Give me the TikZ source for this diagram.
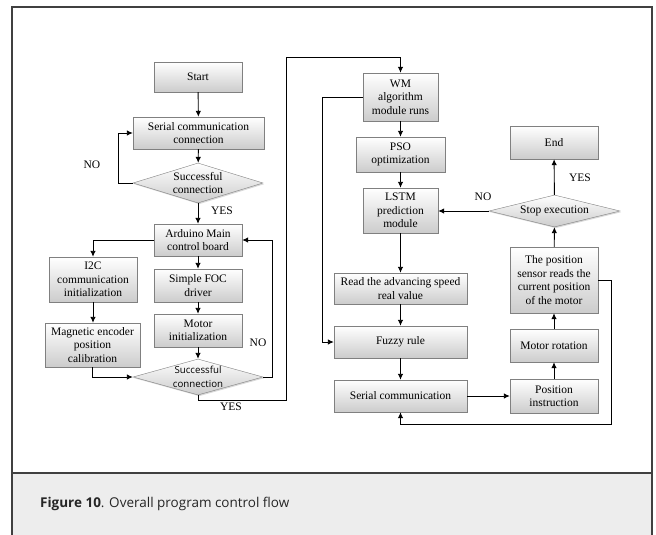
\documentclass[tikz,border=0pt]{standalone}
\usepackage{fontspec}
\setmainfont{Liberation Serif}
\newfontfamily\capfont{Open Sans}
\usetikzlibrary{shapes.geometric,arrows.meta,shadows}

\begin{document}
\begin{tikzpicture}[x=1pt,y=-1pt,
  box/.style={rectangle, draw=black!50, top color=white, bottom color=black!20,
    drop shadow={shadow xshift=1.2pt, shadow yshift=-1.2pt, opacity=0.3},
    inner sep=1pt, align=center, font=\fontsize{11.5}{13.5}\selectfont},
  dia/.style={diamond, draw=black!50, top color=white, bottom color=black!20,
    drop shadow={shadow xshift=1.2pt, shadow yshift=-1.2pt, opacity=0.3}, inner sep=0pt},
  line/.style={draw=black, line width=0.9pt},
  arr/.style={line, -{Latex[length=6pt,width=5.5pt]}},
  lbl/.style={font=\fontsize{11.5}{13.5}\selectfont}]
\clip (0,0) rectangle (656,535);
% frame and caption band
\fill[white] (0,0) rectangle (656,535);
\fill[black!7] (12,473) rectangle (652,540);
\draw[black!75, line width=1.2pt] (12,473) -- (652,473);
\draw[black!75, line width=1.2pt] (12,540) -- (12,7) -- (652,7) -- (652,540);
\node[anchor=west, inner sep=0pt, text=black!85, font=\capfont\fontsize{13.5}{16}\selectfont] (cap) at (40,504) {\textbf{Figure 10}. Overall program control flow};
% left column
\node[box, minimum width=88pt, minimum height=30pt] (start) at (198,77) {Start};
\node[box, minimum width=131pt, minimum height=32pt] (ser1) at (198.5,133) {Serial communication\\connection};
\node[dia, minimum width=130pt, minimum height=40pt, label={[align=center, lbl]center:Successful\\connection}] (d1) at (198,183) {};
\node[box, minimum width=88pt, minimum height=32pt] (ard) at (198,240) {Arduino Main\\control board};
\node[box, minimum width=88pt, minimum height=45pt] (i2c) at (93,279.5) {I2C\\communication\\initialization};
\node[box, minimum width=88pt, minimum height=33pt] (foc) at (198,285.5) {Simple FOC\\driver};
\node[box, minimum width=88pt, minimum height=33pt] (minit) at (198,330.5) {Motor\\initialization};
\node[box, minimum width=95pt, minimum height=44pt] (mag) at (92.5,345) {Magnetic encoder\\position\\calibration};
\node[dia, minimum width=130pt, minimum height=36pt, label={[align=center, font=\capfont\fontsize{9.7}{13.5}\selectfont]center:Successful\\connection}] (d2) at (198,377) {};
\draw[arr] (start) -- (ser1);
\draw[arr] (ser1) -- (d1);
\draw[arr] (d1.west) -- ++(-14,0) |- (ser1.west);
\draw[arr] (d1) -- (ard);
\draw[arr] (ard.west) -| (i2c.north);
\draw[arr] (ard) -- (foc);
\draw[arr] (i2c) -- (i2c |- mag.north);
\draw[arr] (foc) -- (minit);
\draw[arr] (minit) -- (d2);
\draw[arr] (mag.south) |- (d2.west);
\draw[arr] (d2.east) -- ++(9,0) |- (ard.east);
\node[lbl] (no1) at (92,165) {NO};
\node[lbl] (yes1) at (222,211) {YES};
\node[lbl] (no2) at (258,343) {NO};
\node[lbl] (yes2) at (231,407) {YES};
% right part
\node[box, minimum width=75pt, minimum height=48pt] (wm) at (400.5,97) {WM\\algorithm\\module runs};
\node[box, minimum width=89pt, minimum height=35pt] (pso) at (400.5,154.5) {PSO\\optimization};
\node[box, minimum width=75pt, minimum height=45pt] (lstm) at (400.5,210.5) {LSTM\\prediction\\module};
\node[box, minimum width=133pt, minimum height=31pt] (read) at (400.5,288.5) {Read the advancing speed\\real value};
\node[box, minimum width=133pt, minimum height=32pt] (fuz) at (400.5,342) {Fuzzy rule};
\node[box, minimum width=133pt, minimum height=32pt] (ser2) at (400.5,396) {Serial communication};
\node[box, minimum width=88pt, minimum height=34pt] (pins) at (554,396) {Position\\instruction};
\node[box, minimum width=88pt, minimum height=33pt] (mrot) at (554,345.5) {Motor rotation};
\node[box, minimum width=88pt, minimum height=66pt] (sen) at (554,280) {The position\\sensor reads the\\current position\\of the motor};
\node[dia, minimum width=131pt, minimum height=32pt, label={[lbl]center:Stop execution}] (stop) at (554.5,211) {};
\node[box, minimum width=88pt, minimum height=33pt] (end) at (554,142.5) {End};
\coordinate (yup) at (286,57);
\coordinate (fb) at (611,424);
\draw[arr] (d2.south) -- ++(0,5) -| (yup) -| (wm.north);
\draw[arr] (wm) -- (pso);
\draw[arr] (pso) -- (lstm);
\draw[arr] (lstm) -- (read);
\draw[arr] (read) -- (fuz);
\draw[arr] (fuz) -- (ser2);
\draw[arr] (wm.west) -- ++(-40,0) |- (fuz.west);
\draw[arr] (ser2) -- (pins);
\draw[arr] (pins) -- (mrot);
\draw[arr] (mrot) -- (sen);
\draw[arr] (sen) -- (stop);
\draw[arr] (stop) -- (end);
\draw[arr] (stop.west) -- (stop.west -| lstm.east);
\draw[arr] (sen.east) -| (fb) -| (ser2.south);
\node[lbl] (yes3) at (580,178) {YES};
\node[lbl] (no3) at (483,197) {NO};
\end{tikzpicture}
\end{document}
